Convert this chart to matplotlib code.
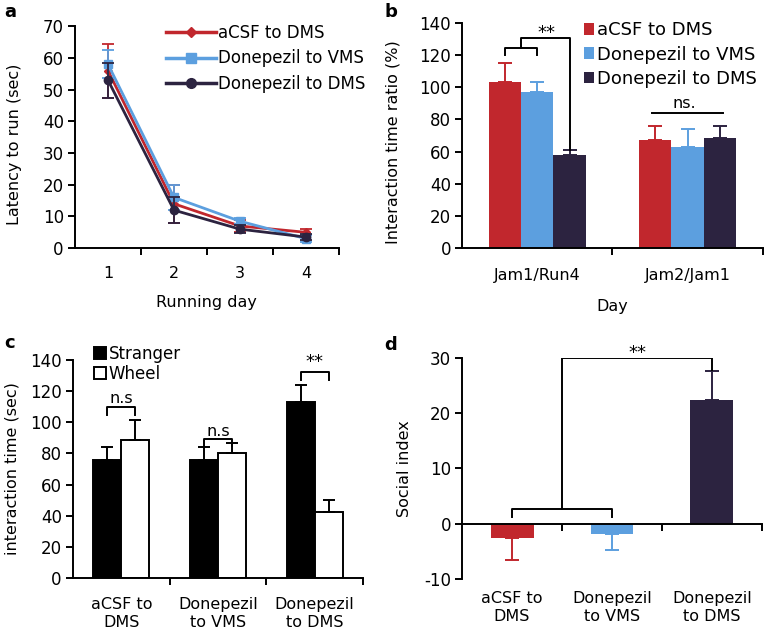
import numpy as np
import matplotlib.pyplot as plt
from matplotlib.ticker import FixedLocator
from matplotlib.lines import Line2D

plt.rcParams['font.family'] = ['DejaVu Sans']
plt.rcParams['font.size'] = 11
plt.rcParams['axes.unicode_minus'] = False

red = '#c1272d'
blue = '#5c9fdf'
dark = '#2c2340'
groups = ['aCSF to DMS', 'Donepezil to VMS', 'Donepezil to DMS']
colors = [red, blue, dark]

# panel a
days = [1, 2, 3, 4]
lat_mean = [[56, 14, 7, 5], [58, 16, 8.5, 3], [53, 12, 6, 3.5]]
lat_err = [[8.5, 6, 2, 1], [4.5, 4, 1, 1], [5.5, 4, 1.2, 1]]
markers = ['D', 's', 'o']
msizes = [4, 5.5, 6]

# panel b
days_b = ['Jam1/Run4', 'Jam2/Jam1']
ratio_mean = [[103, 67], [97, 63], [58, 68.5]]
ratio_err = [[12, 9], [6, 11], [3, 7.5]]

# panel c
groups_c = ['aCSF to\nDMS', 'Donepezil\nto VMS', 'Donepezil\nto DMS']
stranger = [76, 76, 113]
stranger_err = [8, 8, 11]
wheel = [88.5, 80, 42.5]
wheel_err = [13, 6.5, 7.5]

# panel d
social = [-2.6, -1.8, 22.4]
social_err = [4.0, 3.0, 5.2]

fig = plt.figure(figsize=(7.65, 6.38), dpi=100)
axa = fig.add_axes([0.098, 0.611, 0.345, 0.348])
axb = fig.add_axes([0.604, 0.611, 0.393, 0.353])
axc = fig.add_axes([0.0954, 0.094, 0.379, 0.342])
axd = fig.add_axes([0.604, 0.0925, 0.392, 0.3465])

for ax in [axa, axb, axc, axd]:
    ax.spines['top'].set_visible(False)
    ax.spines['right'].set_visible(False)
    ax.spines['left'].set_linewidth(1.4)
    ax.spines['bottom'].set_linewidth(1.4)
    ax.tick_params(axis='y', direction='out', length=5, width=1.4, labelsize=12, pad=3)
    ax.tick_params(axis='x', which='major', length=0, labelsize=11.5, pad=10)
    ax.tick_params(axis='x', which='minor', direction='out', length=5, width=1.4)

k = dict(color='black', lw=1.4)

# a
handles = []
for i in range(3):
    axa.errorbar(days, lat_mean[i], yerr=lat_err[i], fmt='none', ecolor=colors[i],
                 capsize=4, capthick=1.3, elinewidth=1.3)
    axa.plot(days, lat_mean[i], color=colors[i], marker=markers[i], ms=msizes[i], lw=2)
    handles.append(Line2D([], [], color=colors[i], marker=markers[i], ms=msizes[i] + 1, lw=2.5))
axa.set_xlim(0.5, 4.5)
axa.set_ylim(0, 70)
axa.set_yticks(range(0, 71, 10))
axa.set_xticks(days)
axa.xaxis.set_minor_locator(FixedLocator([1.5, 2.5, 3.5, 4.5]))
axa.tick_params(axis='x', which='major', pad=13)
axa.set_xlabel('Running day', fontsize=11.5, labelpad=10)
axa.set_ylabel('Latency to run (sec)', fontsize=11.5)
axa.yaxis.set_label_coords(-0.20, 0.47)
axa.legend(handles, groups, loc='upper left', bbox_to_anchor=(0.32, 1.04), frameon=False,
           fontsize=12, handlelength=3.0, handletextpad=0.1, labelspacing=0.45, borderaxespad=0)

# b
xb = np.arange(len(days_b))
w = 0.215
for i in range(3):
    axb.bar(xb + (i - 1) * w, ratio_mean[i], w, color=colors[i], label=groups[i])
    axb.errorbar(xb + (i - 1) * w, ratio_mean[i], yerr=[np.zeros(2), ratio_err[i]], fmt='none',
                 ecolor=colors[i], elinewidth=1.4, capsize=5, capthick=1.4)
axb.set_xlim(-0.5, 1.5)
axb.set_ylim(0, 140)
axb.set_yticks(range(0, 141, 20))
axb.set_xticks(xb)
axb.set_xticklabels(days_b)
axb.tick_params(axis='x', which='major', pad=14)
axb.xaxis.set_minor_locator(FixedLocator([0.5, 1.5]))
axb.set_xlabel('Day', fontsize=11.5, labelpad=12)
axb.set_ylabel('Interaction time ratio (%)', fontsize=11.5)
axb.yaxis.set_label_coords(-0.206, 0.47)
axb.legend(loc='upper left', bbox_to_anchor=(0.38, 1.04), frameon=False, fontsize=13,
           handlelength=0.6, handleheight=0.6, handletextpad=0.15, labelspacing=0.35, borderaxespad=0)
axb.plot([-w, -w, 0, 0], [120, 124.7, 124.7, 120], **k)
axb.plot([-w / 2, -w / 2, w, w], [124.7, 130.4, 130.4, 61], **k)
axb.text(w * 0.3, 128, '**', ha='center', va='bottom', fontsize=13)
axb.plot([1 - w * 1.1, 1 + w * 1.1], [84, 84], **k)
axb.text(1 - 0.02, 85.5, 'ns.', ha='center', va='bottom', fontsize=11.5)

# c
xc = np.arange(len(groups_c))
wc = 0.29
axc.bar(xc - wc / 2, stranger, wc, color='black', edgecolor='black', lw=1.4, label='Stranger')
axc.bar(xc + wc / 2, wheel, wc, color='white', edgecolor='black', lw=1.4, label='Wheel')
axc.errorbar(xc - wc / 2, stranger, yerr=[np.zeros(3), stranger_err], fmt='none',
             ecolor='black', elinewidth=1.4, capsize=4.5, capthick=1.4)
axc.errorbar(xc + wc / 2, wheel, yerr=[np.zeros(3), wheel_err], fmt='none',
             ecolor='black', elinewidth=1.4, capsize=4.5, capthick=1.4)
axc.set_xlim(-0.5, 2.5)
axc.set_ylim(0, 140)
axc.set_yticks(range(0, 141, 20))
axc.set_xticks(xc)
axc.set_xticklabels(groups_c, linespacing=1.25)
axc.tick_params(axis='x', which='major', pad=14)
axc.xaxis.set_minor_locator(FixedLocator([0.5, 1.5, 2.5]))
axc.set_ylabel('interaction time (sec)', fontsize=11.5)
axc.yaxis.set_label_coords(-0.183, 0.5)
axc.legend(loc='upper left', bbox_to_anchor=(0.048, 1.10), frameon=False, fontsize=12,
           handlelength=0.75, handleheight=0.75, handletextpad=0.15, labelspacing=0.15, borderaxespad=0)
for x, lo, hi, txt in [(0, 104.7, 109.6, 'n.s'), (1, 84.4, 89, 'n.s'), (2, 127, 132.5, '**')]:
    axc.plot([x - wc / 2, x - wc / 2, x + wc / 2, x + wc / 2], [lo, hi, hi, lo], **k)
    axc.text(x, hi + 0.5, txt, ha='center', va='bottom', fontsize=13 if txt == '**' else 11.5)

# d
xd = np.arange(3)
wd = 0.43
axd.bar(xd, social, wd, color=colors)
for i in range(3):
    e = [[social_err[i]], [0]] if social[i] < 0 else [[0], [social_err[i]]]
    axd.errorbar(xd[i], social[i], yerr=e, fmt='none', ecolor=colors[i],
                 elinewidth=1.4, capsize=5, capthick=1.4)
axd.set_xlim(-0.5, 2.5)
axd.set_ylim(-10, 30)
axd.set_yticks(range(-10, 31, 10))
axd.spines['bottom'].set_position(('data', 0))
axd.set_xticks(xd)
axd.set_xticklabels([])
axd.xaxis.set_minor_locator(FixedLocator([0.5, 1.5, 2.5]))
for x, t in zip(xd, groups_c):
    axd.text(x, -12.1, t, ha='center', va='top', fontsize=11.5, linespacing=1.25)
axd.set_ylabel('Social index', fontsize=11.5)
axd.yaxis.set_label_coords(-0.167, 0.5)
axd.plot([0, 0, 1, 1], [1.3, 2.7, 2.7, 1.3], **k)
axd.plot([0.5, 0.5, 2, 2], [2.7, 29.9, 29.9, 27.9], **k)
axd.text(1.25, 29.3, '**', ha='center', va='bottom', fontsize=13)

# panel letters
for lab, px, py in [('a', 4, 3), ('b', 384, 3), ('c', 4, 334), ('d', 384, 336)]:
    fig.text(px / 765, 1 - py / 638, lab, fontsize=13, fontweight='bold', ha='left', va='top')

fig.savefig('out.png', dpi=100)
